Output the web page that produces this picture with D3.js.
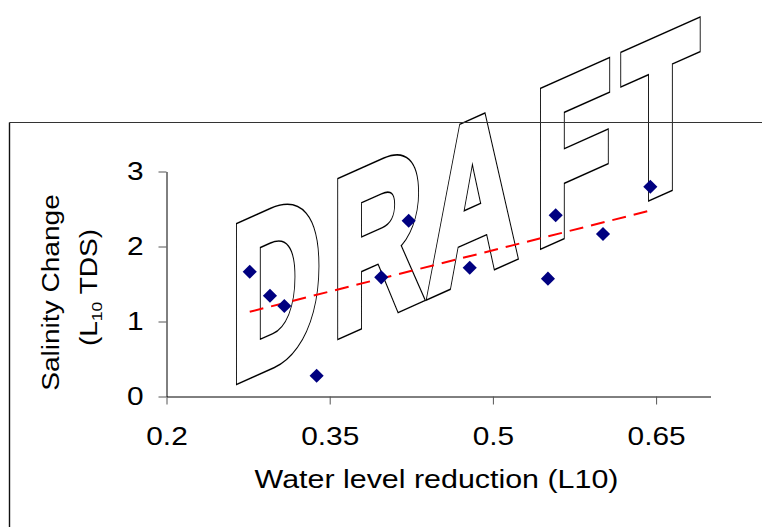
<!DOCTYPE html>
<html>
<head>
<meta charset="utf-8">
<script src="https://unpkg.com/d3@7/dist/d3.min.js"></script>
<style>
  body { margin: 0; background: #fff; }
  text { font-family: "Liberation Sans", Arial, sans-serif; fill: #000; }
</style>
</head>
<body>
<div id="chart"></div>
<script>
// data
let waterLevel = [0.2765, 0.2951, 0.3083, 0.3380, 0.3974, 0.4226, 0.4787, 0.5506, 0.5577, 0.6012, 0.6447]
let salinity = [1.664, 1.344, 1.207, 0.277, 1.589, 2.344, 1.717, 1.571, 2.416, 2.167, 2.797]
let trendX = [0.2765, 0.6447]
let trendY = [1.13, 2.48]
let xTicks = [0.2, 0.35, 0.5, 0.65]
let yTicks = [0, 1, 2, 3]

let w = 762,
    h = 527,
    stretch = 1.17

let svg = d3.select('#chart')
    .append('svg')
    .attr('width', w)
    .attr('height', h)

//#region DRAFT watermark -- drawn first, outline of the merged letters
let wm = 'translate(231,381.8) skewY(-24) scale(0.571,1)',
    grow = 5.1 // how far the outline sits outside the glyphs
// per letter nudge so R and A touch like in the original
let draftKern = [0, 0, -11, 11, 0]

let addDraft = () => {
    let t = svg.append('text')
        .attr('transform', wm)
        .attr('font-size', 219)
        .attr('font-weight', 'bold')
        .attr('letter-spacing', 19.3)
        .attr('vector-effect', 'non-scaling-stroke')
        .attr('stroke-linejoin', 'miter')
        .attr('stroke-miterlimit', 6)
    t.selectAll('tspan')
        .data('DRAFT'.split(''))
        .enter()
        .append('tspan')
        .attr('dx', (d, i) => draftKern[i])
        .text(d => d)
    return t
}

addDraft()
    .style('fill', '#000')
    .attr('stroke', '#000')
    .attr('stroke-width', 2 * (grow + 0.8))
addDraft()
    .style('fill', '#fff')
    .attr('stroke', '#fff')
    .attr('stroke-width', 2 * (grow - 0.8))
//#endregion

// outer frame (top and left edges only visible)
svg.append('line')
    .attr('x1', 9.5).attr('y1', 122.5)
    .attr('x2', w).attr('y2', 122.5)
    .attr('stroke', '#333')
    .attr('stroke-width', 1.2)
svg.append('line')
    .attr('x1', 9.5).attr('y1', 122.5)
    .attr('x2', 9.5).attr('y2', h)
    .attr('stroke', '#111')
    .attr('stroke-width', 1.4)

let xScale = d3.scaleLinear()
    .domain([0.2, 0.7])
    .range([166.5, 710.5])
let yScale = d3.scaleLinear()
    .domain([0, 3])
    .range([396.5, 171.5])

// axes
let xAxisGen = d3.axisBottom(xScale)
    .tickValues(xTicks)
    .tickFormat(d => d)
    .tickSizeInner(8)
    .tickSizeOuter(0)
let yAxisGen = d3.axisLeft(yScale)
    .tickValues(yTicks)
    .tickFormat(d => d)
    .tickSizeInner(8)
    .tickSizeOuter(0)

let xAxis = svg.append('g')
    .attr('transform', `translate(0,${yScale(0)})`)
    .call(xAxisGen)
let yAxis = svg.append('g')
    .attr('transform', `translate(${xScale(0.2)},0)`)
    .call(yAxisGen)

xAxis.select('.domain').attr('stroke', '#000')
yAxis.select('.domain').attr('stroke', '#000')
xAxis.selectAll('.tick line').attr('stroke', '#555')
yAxis.selectAll('.tick line').attr('stroke', '#555')

xAxis.selectAll('.tick text')
    .attr('font-size', 25.5)
    .attr('y', 0)
    .attr('dy', 0)
    .attr('transform', `translate(0,48) scale(${stretch},1)`)
yAxis.selectAll('.tick text')
    .attr('font-size', 25.5)
    .attr('x', 0)
    .attr('dy', '0.3em')
    .attr('transform', `translate(-23,0) scale(${stretch},1)`)

// axis titles
svg.append('text')
    .attr('transform', `translate(436.5,488) scale(${stretch},1)`)
    .attr('text-anchor', 'middle')
    .attr('font-size', 26)
    .text('Water level reduction (L10)')

svg.append('text')
    .attr('transform', `translate(59,292.5) rotate(-90) scale(${stretch},1)`)
    .attr('text-anchor', 'middle')
    .attr('font-size', 24)
    .text('Salinity Change')

let yLab2 = svg.append('text')
    .attr('transform', `translate(97,287.5) rotate(-90) scale(${stretch},1)`)
    .attr('text-anchor', 'middle')
    .attr('font-size', 24)
yLab2.append('tspan').text('(L')
yLab2.append('tspan').attr('font-size', 15).attr('dy', 5).text('10')
yLab2.append('tspan').attr('dy', -5).text(' TDS)')

// trend line
let trend = d3.line()
    .x(d => xScale(d[0]))
    .y(d => yScale(d[1]))
svg.append('path')
    .attr('d', trend(d3.zip(trendX, trendY)))
    .attr('stroke', '#ff0000')
    .attr('stroke-width', 2)
    .attr('stroke-dasharray', '14,8')
    .attr('fill', 'none')

// points
let diamond = d3.symbol().type(d3.symbolSquare).size(100)
svg.selectAll('path.pt')
    .data(d3.zip(waterLevel, salinity))
    .enter()
    .append('path')
    .attr('class', 'pt')
    .attr('d', diamond)
    .attr('transform', d => `translate(${xScale(d[0])},${yScale(d[1])}) rotate(45)`)
    .attr('fill', '#000080')
</script>
</body>
</html>
